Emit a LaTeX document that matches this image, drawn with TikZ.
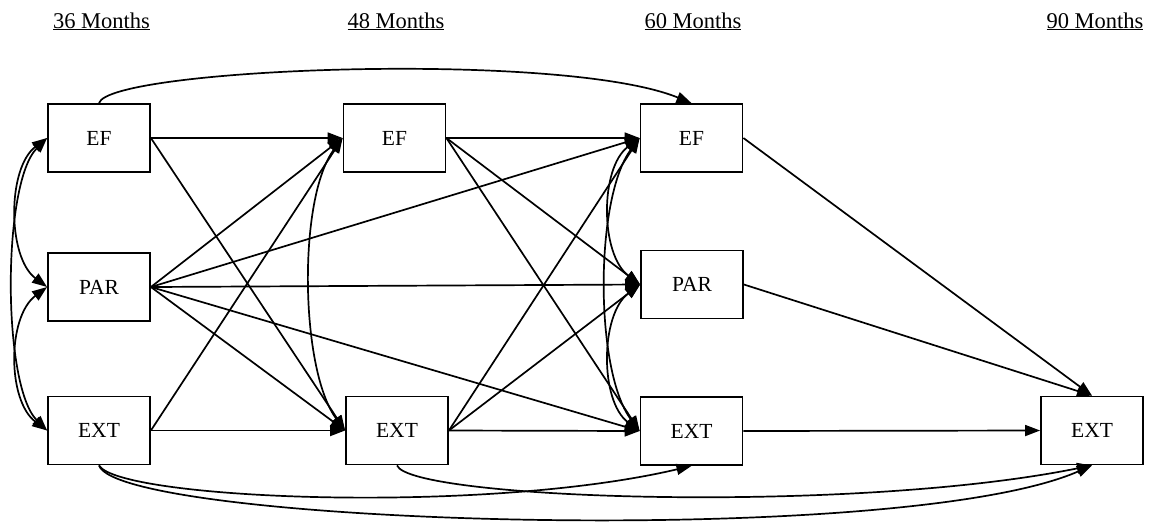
\documentclass[tikz,border=0pt]{standalone}
\usepackage{fontspec}
\setmainfont{Liberation Serif}
\usetikzlibrary{arrows.meta}
\begin{document}
\begin{tikzpicture}[x=1pt,y=-1pt,
  box/.style={draw,line width=1.8pt,minimum width=102pt,minimum height=68pt,inner sep=0pt,
    font=\fontsize{21.5}{25}\selectfont},
  title/.style={anchor=base,inner sep=0pt,font=\fontsize{22.5}{26}\selectfont},
  arr/.style={line width=1.7pt,-{Triangle[length=15pt,width=11pt]}},
  dbl/.style={line width=1.7pt,{Triangle[length=15pt,width=11pt]}-{Triangle[length=15pt,width=11pt]}}]
\useasboundingbox (0,0) rectangle (1155,523);
% titles
\node[title] (t36) at (101.5,28) {\underline{36 Months}};
\node[title] (t48) at (396,28) {\underline{48 Months}};
\node[title] (t60) at (693,28) {\underline{60 Months}};
\node[title] (t90) at (1095,28) {\underline{90 Months}};
% nodes
\node[box] (ef36) at (99,138) {EF};
\node[box] (par36) at (99,287) {PAR};
\node[box] (ext36) at (99,430.5) {EXT};
\node[box] (ef48) at (394.5,138) {EF};
\node[box] (ext48) at (397,430.5) {EXT};
\node[box] (ef60) at (691.5,138) {EF};
\node[box] (par60) at (692,284.5) {PAR};
\node[box] (ext60) at (691.5,431) {EXT};
\node[box] (ext90) at (1092,430.5) {EXT};
% straight paths
\draw[arr] (ef36.east) -- (ef48.west);
\draw[arr] (ef36.east) -- (ext48.west);
\draw[arr] (par36.east) -- (ef48.west);
\draw[arr] (par36.east) -- (ext48.west);
\draw[arr] (par36.east) -- (ef60.west);
\draw[arr] (par36.east) -- (par60.west);
\draw[arr] (par36.east) -- (ext60.west);
\draw[arr] (ext36.east) -- (ef48.west);
\draw[arr] (ext36.east) -- (ext48.west);
\draw[arr] (ef48.east) -- (ef60.west);
\draw[arr] (ef48.east) -- (par60.west);
\draw[arr] (ef48.east) -- (ext60.west);
\draw[arr] (ext48.east) -- (ef60.west);
\draw[arr] (ext48.east) -- (par60.west);
\draw[arr] (ext48.east) -- (ext60.west);
\draw[arr] (ef60.east) -- (ext90.north);
\draw[arr] (par60.east) -- (ext90.north);
\draw[arr] (ext60.east) -- (ext90.west);
% curved paths
\draw[arr] (ef36.north) .. controls +(10,-35) and +(-130,-53) .. (ef60.north);
\draw[arr] (ext36.south) .. controls +(20,34) and +(-208,49) .. (ext60.south);
\draw[arr] (ext36.south) .. controls +(20,59) and +(-192,84) .. (ext90.south);
\draw[arr] (ext48.south) .. controls +(13,34) and +(-242,49) .. (ext90.south);
% covariances
\draw[dbl] (ef36.west) .. controls +(-40,30) and +(-40,-30) .. (par36.west);
\draw[dbl] (ef36.west) .. controls +(-45,45) and +(-45,-45) .. (ext36.west);
\draw[dbl] (par36.west) .. controls +(-40,30) and +(-40,-30) .. (ext36.west);
\draw[dbl] (ef48.west) .. controls +(-45,60) and +(-45,-60) .. (ext48.west);
\draw[dbl] (ef60.west) .. controls +(-40,30) and +(-40,-30) .. (par60.west);
\draw[dbl] (ef60.west) .. controls +(-45,60) and +(-45,-60) .. (ext60.west);
\draw[dbl] (par60.west) .. controls +(-40,30) and +(-40,-30) .. (ext60.west);
\end{tikzpicture}
\end{document}
